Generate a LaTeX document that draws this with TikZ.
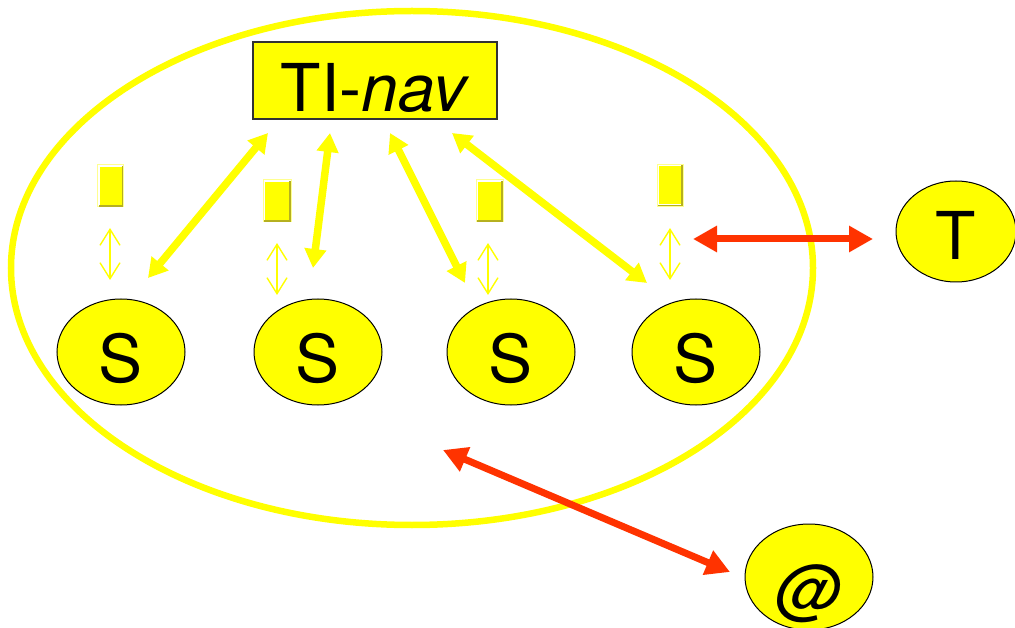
\documentclass[tikz,border=0pt]{standalone}
\usepackage{fontspec}
\setmainfont{TeX Gyre Heros}
\usetikzlibrary{shapes.geometric,arrows.meta}
\definecolor{ylw}{HTML}{FFFF00}
\definecolor{ylwlight}{HTML}{FFFF90}
\definecolor{olivec}{HTML}{B5B020}
\definecolor{redc}{HTML}{FF3300}
\definecolor{framec}{HTML}{333333}
\tikzset{
  big/.style={font=\fontsize{66}{78}\selectfont},
  ring/.style={ellipse, draw=ylw, line width=6.5pt, minimum width=802pt, minimum height=514pt, inner sep=0pt},
  stn/.style={ellipse, draw=black, line width=1pt, fill=ylw, minimum width=128pt, minimum height=106pt, inner sep=0pt, big, text height=60pt, text depth=0pt},
  navbox/.style={rectangle, draw=framec, line width=1.3pt, fill=ylw, minimum width=244pt, minimum height=77pt, inner sep=0pt, big, text height=63pt, text depth=0pt},
  smallbox/.style={rectangle, draw=ylwlight, line width=1pt, fill=white, minimum width=26pt, minimum height=42pt, inner sep=0pt},
  yarrow/.style={draw=ylw, line width=7.5pt, {Triangle[length=19pt,width=21pt]}-{Triangle[length=19pt,width=21pt]}},
  tarrow/.style={draw=ylw, line width=1.4pt, {Straight Barb[length=16pt,width=20pt]}-{Straight Barb[length=16pt,width=20pt]}},
  rarrow/.style={draw=redc, line width=7pt, {Triangle[length=24pt,width=25pt]}-{Triangle[length=24pt,width=25pt]}},
}
\newcommand{\stackbox}[1]{%
  \fill[ylw] ([xshift=2.5pt,yshift=2.5pt]#1.south west) rectangle ([xshift=-2.5pt,yshift=-2.5pt]#1.north east);
  \draw[olivec, line width=1.3pt] ([xshift=-1.5pt,yshift=-1.5pt]#1.north east) -- ([xshift=-1.5pt,yshift=1.5pt]#1.south east) -- ([xshift=1.5pt,yshift=1.5pt]#1.south west);
}
\begin{document}
\begin{tikzpicture}[x=1pt,y=-1pt]
\useasboundingbox (0,0) rectangle (1015,628);

% the enclosing domain
\node[ring] (dom) at (412,268) {};

% navigation server
\node[navbox] (nav) at (375,80.5) {TI-\textit{nav}};

% stations
\node[stn] (s1) at (121,352) {S};
\node[stn] (s2) at (318,352) {S};
\node[stn] (s3) at (511,352) {S};
\node[stn] (s4) at (696,352) {S};

% outside parties
\node[stn, minimum width=120pt, minimum height=101pt, text height=57pt] (t) at (956,231.5) {T};
\node[stn, text height=72pt] (at) at (809,577) {\itshape @};

% small data blocks above the stations
\node[smallbox] (b1) at (110.5,186) {};
\node[smallbox, minimum width=28pt] (b2) at (277,201) {};
\node[smallbox, minimum width=27pt] (b3) at (489.5,201) {};
\node[smallbox] (b4) at (670,185.5) {};
\stackbox{b1}\stackbox{b2}\stackbox{b3}\stackbox{b4}

% endpoints of the links
\coordinate (n1) at (268,133); \coordinate (e1) at (148,278);
\coordinate (n2) at (330,133); \coordinate (e2) at (313,268);
\coordinate (n3) at (390,133); \coordinate (e3) at (465,283);
\coordinate (n4) at (452,133); \coordinate (e4) at (647,283);

\coordinate (d1a) at (110,228); \coordinate (d1b) at (110,280);
\coordinate (d2a) at (277,243); \coordinate (d2b) at (277,295);
\coordinate (d3a) at (488,243); \coordinate (d3b) at (488,295);
\coordinate (d4a) at (670,228); \coordinate (d4b) at (670,280);

\coordinate (ta) at (693,239); \coordinate (tb) at (873,239);
\coordinate (aa) at (443,450); \coordinate (ab) at (730,572);

% links between the server and the stations
\draw[yarrow] (n1) -- (e1);
\draw[yarrow] (n2) -- (e2);
\draw[yarrow] (n3) -- (e3);
\draw[yarrow] (n4) -- (e4);

% exchanges between blocks and stations
\draw[tarrow] (d1a) -- (d1b);
\draw[tarrow] (d2a) -- (d2b);
\draw[tarrow] (d3a) -- (d3b);
\draw[tarrow] (d4a) -- (d4b);

% external links
\draw[rarrow] (ta) -- (tb);
\draw[rarrow] (aa) -- (ab);
\end{tikzpicture}
\end{document}
